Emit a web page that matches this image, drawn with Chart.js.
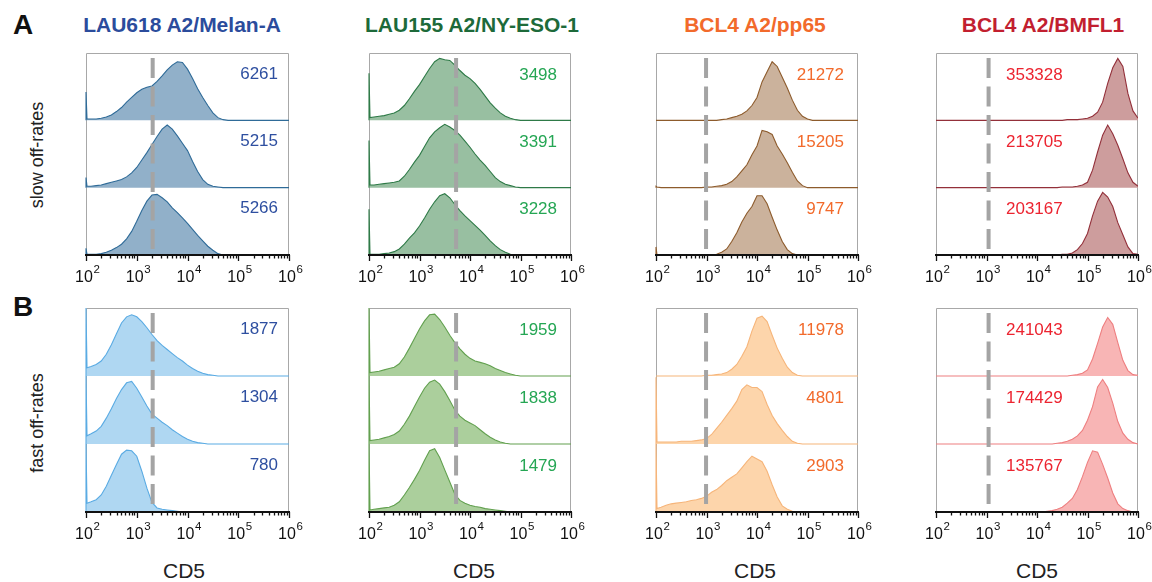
<!DOCTYPE html>
<html lang="en">
<head>
<meta charset="UTF-8">
<title>CD5 histograms</title>
<script src="https://cdn.jsdelivr.net/npm/chart.js"></script>
<style>
    body { margin: 0; background: #fff; }
    #fig { position: relative; width: 1152px; height: 582px; overflow: hidden; font-family: "Liberation Sans", Arial, sans-serif; }
    #fig canvas { position: absolute; }
    .txt { position: absolute; white-space: nowrap; line-height: 1; transform: translate(-50%, -50%); }
</style>
</head>
<body>
<div id="fig"></div>
<script>
// x positions of the histogram samples, as log10(CD5)
const logPos = [2.0, 2.02,
    2.1, 2.2, 2.3, 2.4, 2.5, 2.6, 2.7, 2.8, 2.9,
    3.0, 3.1, 3.2, 3.3, 3.4, 3.5, 3.6, 3.7, 3.8, 3.9,
    4.0, 4.1, 4.2, 4.3, 4.4, 4.5, 4.6, 4.7, 4.8, 4.9,
    5.0, 5.1, 5.2, 5.3, 5.4, 5.5, 5.6, 5.7, 5.8, 5.9,
    6.0];

const titles = ['LAU618 A2/Melan-A', 'LAU155 A2/NY-ESO-1', 'BCL4 A2/pp65', 'BCL4 A2/BMFL1'];
const rowNames = ['slow off-rates', 'fast off-rates'];
const xTitle = 'CD5';
const tickExps = [2, 3, 4, 5, 6];
const gates = [2060, 5300, 980, 1100];

const mfiSlow = [[6261, 5215, 5266], [3498, 3391, 3228], [21272, 15205, 9747], [353328, 213705, 203167]];
const mfiFast = [[1877, 1304, 780], [1959, 1838, 1479], [11978, 4801, 2903], [241043, 174429, 135767]];

// relative histogram heights (fraction of one lane)
const melSlow1 = [0.42, 0.02, 0.02, 0.02, 0.03, 0.05, 0.08, 0.13, 0.19, 0.27, 0.34,
    0.41, 0.46, 0.49, 0.51, 0.58, 0.66, 0.75, 0.82, 0.87, 0.86,
    0.76, 0.62, 0.47, 0.34, 0.22, 0.11, 0.04, 0.01, 0, 0,
    0, 0, 0, 0, 0, 0, 0, 0, 0, 0, 0];
const melSlow2 = [0.15, 0.02, 0.02, 0.03, 0.04, 0.06, 0.08, 0.10, 0.12, 0.16, 0.22,
    0.30, 0.41, 0.52, 0.64, 0.76, 0.87, 0.93, 0.87, 0.77, 0.66,
    0.55, 0.39, 0.24, 0.12, 0.05, 0.02, 0.01, 0, 0, 0,
    0, 0, 0, 0, 0, 0, 0, 0, 0, 0, 0];
const melSlow3 = [0.10, 0.01, 0.01, 0.01, 0.02, 0.04, 0.07, 0.11, 0.16, 0.24, 0.35,
    0.50, 0.66, 0.80, 0.89, 0.90, 0.85, 0.79, 0.70, 0.63, 0.55,
    0.47, 0.38, 0.29, 0.21, 0.13, 0.07, 0.02, 0, 0, 0,
    0, 0, 0, 0, 0, 0, 0, 0, 0, 0, 0];
const melFast1 = [1.0, 0.12, 0.14, 0.17, 0.22, 0.32, 0.46, 0.62, 0.78, 0.87, 0.90,
    0.87, 0.80, 0.71, 0.61, 0.52, 0.45, 0.39, 0.33, 0.27, 0.22,
    0.16, 0.11, 0.07, 0.04, 0.02, 0.01, 0, 0, 0, 0,
    0, 0, 0, 0, 0, 0, 0, 0, 0, 0, 0];
const melFast2 = [1.0, 0.12, 0.15, 0.19, 0.26, 0.38, 0.52, 0.67, 0.80, 0.90, 0.92,
    0.82, 0.69, 0.56, 0.44, 0.38, 0.32, 0.27, 0.21, 0.16, 0.11,
    0.07, 0.04, 0.02, 0.01, 0, 0, 0, 0, 0, 0,
    0, 0, 0, 0, 0, 0, 0, 0, 0, 0, 0];
const melFast3 = [1.0, 0.13, 0.15, 0.18, 0.25, 0.38, 0.54, 0.70, 0.85, 0.91, 0.90,
    0.82, 0.60, 0.35, 0.14, 0.06, 0.04, 0.03, 0.02, 0.01, 0,
    0, 0, 0, 0, 0, 0, 0, 0, 0, 0,
    0, 0, 0, 0, 0, 0, 0, 0, 0, 0, 0];

const esoSlow1 = [0.70, 0.04, 0.05, 0.06, 0.07, 0.09, 0.11, 0.15, 0.22, 0.32, 0.43,
    0.53, 0.65, 0.77, 0.87, 0.92, 0.90, 0.89, 0.82, 0.74, 0.67,
    0.62, 0.55, 0.46, 0.36, 0.26, 0.18, 0.11, 0.06, 0.03, 0.01,
    0, 0, 0, 0, 0, 0, 0, 0, 0, 0, 0];
const esoSlow2 = [0.70, 0.04, 0.04, 0.05, 0.06, 0.07, 0.08, 0.10, 0.17, 0.27, 0.38,
    0.48, 0.61, 0.74, 0.83, 0.89, 0.94, 0.90, 0.85, 0.78, 0.69,
    0.60, 0.50, 0.41, 0.33, 0.24, 0.15, 0.09, 0.05, 0.03, 0.01,
    0, 0, 0, 0, 0, 0, 0, 0, 0, 0, 0];
const esoSlow3 = [0.68, 0.01, 0.01, 0.01, 0.02, 0.03, 0.05, 0.09, 0.16, 0.25, 0.33,
    0.43, 0.55, 0.68, 0.79, 0.88, 0.91, 0.85, 0.75, 0.66, 0.58,
    0.51, 0.44, 0.37, 0.29, 0.21, 0.14, 0.08, 0.04, 0.01, 0,
    0, 0, 0, 0, 0, 0, 0, 0, 0, 0, 0];
const esoFast1 = [1.0, 0.05, 0.06, 0.07, 0.09, 0.11, 0.13, 0.18, 0.28, 0.41, 0.55,
    0.69, 0.81, 0.90, 0.91, 0.83, 0.72, 0.60, 0.49, 0.40, 0.32,
    0.26, 0.22, 0.20, 0.18, 0.15, 0.11, 0.08, 0.05, 0.03, 0.01,
    0, 0, 0, 0, 0, 0, 0, 0, 0, 0, 0];
const esoFast2 = [1.0, 0.05, 0.06, 0.07, 0.09, 0.11, 0.14, 0.19, 0.29, 0.41, 0.55,
    0.69, 0.82, 0.91, 0.94, 0.88, 0.77, 0.64, 0.50, 0.41, 0.35,
    0.31, 0.27, 0.21, 0.15, 0.10, 0.06, 0.03, 0.01, 0, 0,
    0, 0, 0, 0, 0, 0, 0, 0, 0, 0, 0];
const esoFast3 = [1.0, 0.03, 0.04, 0.05, 0.06, 0.07, 0.10, 0.15, 0.25, 0.36, 0.48,
    0.61, 0.76, 0.90, 0.93, 0.80, 0.62, 0.44, 0.26, 0.17, 0.13,
    0.10, 0.08, 0.07, 0.05, 0.04, 0.03, 0.02, 0.01, 0, 0,
    0, 0, 0, 0, 0, 0, 0, 0, 0, 0, 0];

const ppSlow1 = [0, 0, 0, 0, 0, 0, 0, 0, 0, 0, 0,
    0, 0, 0, 0.01, 0.02, 0.04, 0.06, 0.09, 0.14, 0.22,
    0.34, 0.57, 0.72, 0.87, 0.80, 0.64, 0.48, 0.30, 0.15, 0.06,
    0.02, 0, 0, 0, 0, 0, 0, 0, 0, 0, 0];
const ppSlow2 = [0.02, 0.01, 0, 0, 0, 0, 0, 0, 0, 0, 0,
    0.01, 0.01, 0.02, 0.03, 0.05, 0.09, 0.16, 0.25, 0.34, 0.49,
    0.62, 0.85, 0.83, 0.79, 0.62, 0.50, 0.37, 0.23, 0.10, 0.03,
    0, 0, 0, 0, 0, 0, 0, 0, 0, 0, 0];
const ppSlow3 = [0.12, 0, 0, 0, 0, 0, 0, 0, 0, 0, 0,
    0, 0, 0.01, 0.04, 0.09, 0.20, 0.33, 0.49, 0.62, 0.72,
    0.88, 0.88, 0.76, 0.56, 0.37, 0.20, 0.08, 0.02, 0, 0,
    0, 0, 0, 0, 0, 0, 0, 0, 0, 0, 0];
const ppFast1 = [0, 0, 0, 0, 0, 0, 0, 0, 0, 0, 0,
    0.01, 0.01, 0.02, 0.03, 0.05, 0.10, 0.17, 0.29, 0.43, 0.66,
    0.85, 0.88, 0.80, 0.60, 0.41, 0.26, 0.13, 0.05, 0.01, 0,
    0, 0, 0, 0, 0, 0, 0, 0, 0, 0, 0];
const ppFast2 = [0.98, 0.03, 0.03, 0.03, 0.03, 0.03, 0.04, 0.04, 0.04, 0.05, 0.06,
    0.08, 0.14, 0.23, 0.32, 0.42, 0.52, 0.63, 0.80, 0.87, 0.83,
    0.83, 0.77, 0.58, 0.42, 0.30, 0.20, 0.11, 0.04, 0.01, 0,
    0, 0, 0, 0, 0, 0, 0, 0, 0, 0, 0];
const ppFast3 = [1.0, 0.05, 0.07, 0.10, 0.12, 0.13, 0.14, 0.15, 0.17, 0.18, 0.20,
    0.23, 0.29, 0.33, 0.39, 0.46, 0.51, 0.56, 0.65, 0.74, 0.82,
    0.78, 0.74, 0.60, 0.40, 0.22, 0.09, 0.04, 0.01, 0, 0,
    0, 0, 0, 0, 0, 0, 0, 0, 0, 0, 0];

const bmSlow1 = [0, 0, 0, 0, 0, 0, 0, 0, 0, 0, 0,
    0, 0, 0, 0, 0, 0, 0, 0, 0, 0,
    0, 0, 0, 0, 0, 0, 0.01, 0.01, 0.01, 0.02,
    0.03, 0.06, 0.12, 0.27, 0.55, 0.78, 0.92, 0.80, 0.40, 0.14,
    0.03];
const bmSlow2 = [0, 0, 0, 0, 0, 0, 0, 0, 0, 0, 0,
    0, 0, 0, 0, 0, 0, 0, 0, 0, 0,
    0, 0, 0, 0, 0, 0.01, 0.01, 0.01, 0.02, 0.04,
    0.08, 0.26, 0.53, 0.78, 0.93, 0.80, 0.63, 0.43, 0.22, 0.08,
    0.02];
const bmSlow3 = [0, 0, 0, 0, 0, 0, 0, 0, 0, 0, 0,
    0, 0, 0, 0, 0, 0, 0, 0, 0, 0,
    0, 0, 0, 0, 0, 0.01, 0.01, 0.03, 0.08, 0.17,
    0.32, 0.58, 0.80, 0.93, 0.86, 0.72, 0.48, 0.30, 0.12, 0.02,
    0.01];
const bmFast1 = [0, 0, 0, 0, 0, 0, 0, 0, 0, 0, 0,
    0, 0, 0, 0, 0, 0, 0, 0, 0, 0,
    0, 0, 0, 0, 0, 0, 0, 0.01, 0.02, 0.04,
    0.09, 0.25, 0.48, 0.72, 0.86, 0.76, 0.49, 0.23, 0.08, 0.02,
    0.01];
const bmFast2 = [0, 0, 0, 0, 0, 0, 0, 0, 0, 0, 0,
    0, 0, 0, 0, 0, 0, 0, 0, 0, 0,
    0, 0, 0, 0, 0.01, 0.02, 0.04, 0.07, 0.12, 0.20,
    0.35, 0.55, 0.84, 0.95, 0.83, 0.60, 0.33, 0.16, 0.07, 0.02,
    0];
const bmFast3 = [0, 0, 0, 0, 0, 0, 0, 0, 0, 0, 0,
    0, 0, 0, 0, 0, 0, 0, 0, 0, 0,
    0, 0, 0.01, 0.02, 0.04, 0.07, 0.13, 0.20, 0.33, 0.52,
    0.73, 0.90, 0.88, 0.70, 0.50, 0.28, 0.12, 0.05, 0.02, 0,
    0];

const histSlow = [[melSlow1, melSlow2, melSlow3], [esoSlow1, esoSlow2, esoSlow3], [ppSlow1, ppSlow2, ppSlow3], [bmSlow1, bmSlow2, bmSlow3]];
const histFast = [[melFast1, melFast2, melFast3], [esoFast1, esoFast2, esoFast3], [ppFast1, ppFast2, ppFast3], [bmFast1, bmFast2, bmFast3]];

// colours
const titleColors = ['#2b4c9c', '#1d6a3a', '#f26a2b', '#c21f30'];
const numColors = ['#2e4fa0', '#25a654', '#f26a2b', '#ec2430'];
const slowFill = ['#91b0c9', '#98bfa1', '#cbb29c', '#cd9d9d'];
const slowLine = ['#2f6b98', '#2e7a47', '#8d5b2c', '#93303a'];
const fastFill = ['#afd7f2', '#abcf9c', '#fdd5ab', '#f8b5b5'];
const fastLine = ['#5aabe3', '#62a04f', '#f6b57a', '#ee7f80'];

// layout
const panelLeft = [86, 369, 656, 936];
const panelWidth = [203, 202, 202, 202];
const rowTop = [53, 308];
const rowHeight = [202, 204];
const titleX = [182, 472, 755, 1043];
const cd5X = [184, 474, 755, 1037];
const PAD = { left: 16, right: 16, top: 4, bottom: 34 };

const fig = document.getElementById('fig');

function addText(text, cx, cy, css) {
    const d = document.createElement('div');
    d.className = 'txt';
    d.textContent = text;
    d.style.left = cx + 'px';
    d.style.top = cy + 'px';
    Object.assign(d.style, css);
    fig.appendChild(d);
}

function decoPlugin(col, mfi, numColor) {
    return {
        id: 'deco',
        beforeDatasetsDraw(chart) {
            const { ctx, chartArea: a } = chart;
            ctx.save();
            ctx.strokeStyle = '#a8a8a8';
            ctx.lineWidth = 1;
            ctx.beginPath();
            ctx.moveTo(a.left + 0.5, a.bottom);
            ctx.lineTo(a.left + 0.5, a.top + 0.5);
            ctx.lineTo(a.right - 0.5, a.top + 0.5);
            ctx.lineTo(a.right - 0.5, a.bottom);
            ctx.stroke();
            ctx.restore();
        },
        afterDraw(chart) {
            const { ctx, chartArea: a, scales } = chart;
            const xs = scales.x, ys = scales.y;
            ctx.save();
            // x axis line
            ctx.strokeStyle = '#111';
            ctx.lineWidth = 2;
            ctx.beginPath();
            ctx.moveTo(a.left - 1, a.bottom);
            ctx.lineTo(a.right + 1, a.bottom);
            ctx.stroke();
            // ticks
            ctx.lineWidth = 1.3;
            ctx.beginPath();
            tickExps.forEach((e, i) => {
                const base = Math.pow(10, e);
                const px = Math.round(xs.getPixelForValue(base)) + 0.5;
                ctx.moveTo(px, a.bottom);
                ctx.lineTo(px, a.bottom + 6);
                if (i < tickExps.length - 1) {
                    for (let m = 2; m <= 9; m++) {
                        const mx = Math.round(xs.getPixelForValue(base * m)) + 0.5;
                        ctx.moveTo(mx, a.bottom);
                        ctx.lineTo(mx, a.bottom + 3.5);
                    }
                }
            });
            ctx.stroke();
            // tick labels 10^n
            ctx.fillStyle = '#111';
            ctx.textBaseline = 'alphabetic';
            ctx.textAlign = 'left';
            tickExps.forEach(e => {
                const px = xs.getPixelForValue(Math.pow(10, e));
                ctx.font = '16px "Liberation Sans", Arial, sans-serif';
                const w = ctx.measureText('10').width;
                const x0 = px - w / 2 - 2;
                ctx.fillText('10', x0, a.bottom + 27);
                ctx.font = '11.5px "Liberation Sans", Arial, sans-serif';
                ctx.fillText(String(e), x0 + w + 0.5, a.bottom + 17.5);
            });
            // MFI numbers
            ctx.font = '17px "Liberation Sans", Arial, sans-serif';
            ctx.fillStyle = numColor;
            ctx.textBaseline = 'middle';
            mfi.forEach((v, k) => {
                const laneTop = ys.getPixelForValue(3 - k);
                if (col === 3) {
                    ctx.textAlign = 'left';
                    ctx.fillText(String(v), a.left + 70, laneTop + 22);
                } else {
                    ctx.textAlign = 'right';
                    ctx.fillText(String(v), a.right - (col === 0 ? 11 : 14), laneTop + (col === 0 ? 21 : 22));
                }
            });
            ctx.restore();
        }
    };
}

function makePanel(col, row) {
    const hists = row === 0 ? histSlow[col] : histFast[col];
    const mfi = row === 0 ? mfiSlow[col] : mfiFast[col];
    const fill = row === 0 ? slowFill[col] : fastFill[col];
    const line = row === 0 ? slowLine[col] : fastLine[col];

    const cv = document.createElement('canvas');
    const w = panelWidth[col] + PAD.left + PAD.right;
    const h = rowHeight[row] + PAD.top + PAD.bottom;
    cv.width = w;
    cv.height = h;
    cv.style.width = w + 'px';
    cv.style.height = h + 'px';
    cv.style.left = (panelLeft[col] - PAD.left) + 'px';
    cv.style.top = (rowTop[row] - PAD.top) + 'px';
    fig.appendChild(cv);

    const datasets = [{
        data: [{ x: gates[col], y: 2.925 }, { x: gates[col], y: 0.085 }],
        borderColor: '#a4a4a4',
        borderWidth: 4,
        borderDash: [20, 8.5],
        fill: false
    }];
    hists.forEach((hv, k) => {
        const base = 2 - k;
        const pts = [{ x: 100, y: base }];
        logPos.forEach((e, i) => pts.push({ x: Math.pow(10, e), y: base + hv[i] }));
        datasets.push({
            data: pts,
            borderColor: line,
            backgroundColor: fill,
            borderWidth: 1.1,
            clip: { left: 1, top: 0, right: 0, bottom: 0 },
            fill: { value: base }
        });
    });

    new Chart(cv, {
        type: 'line',
        data: { datasets: datasets },
        options: {
            responsive: false,
            animation: false,
            events: [],
            layout: { padding: PAD },
            elements: { point: { radius: 0 }, line: { tension: 0 } },
            plugins: { legend: { display: false }, tooltip: { enabled: false } },
            scales: {
                x: { type: 'logarithmic', min: 100, max: 1e6, display: false },
                y: { type: 'linear', min: 0, max: 3, display: false }
            }
        },
        plugins: [decoPlugin(col, mfi, numColors[col])]
    });
}

for (let row = 0; row < 2; row++) {
    for (let col = 0; col < 4; col++) makePanel(col, row);
}

// texts
titles.forEach((t, i) => addText(t, titleX[i], 24, { fontSize: '21px', fontWeight: 'bold', color: titleColors[i] }));
addText('A', 23, 25, { fontSize: '28px', fontWeight: 'bold', color: '#111' });
addText('B', 23, 307, { fontSize: '28px', fontWeight: 'bold', color: '#111' });
addText(rowNames[0], 37, 155, { fontSize: '18px', color: '#222', transform: 'translate(-50%, -50%) rotate(-90deg)' });
addText(rowNames[1], 37, 423, { fontSize: '18px', color: '#222', transform: 'translate(-50%, -50%) rotate(-90deg)' });
cd5X.forEach(x => addText(xTitle, x, 570, { fontSize: '21px', color: '#222' }));
</script>
</body>
</html>
